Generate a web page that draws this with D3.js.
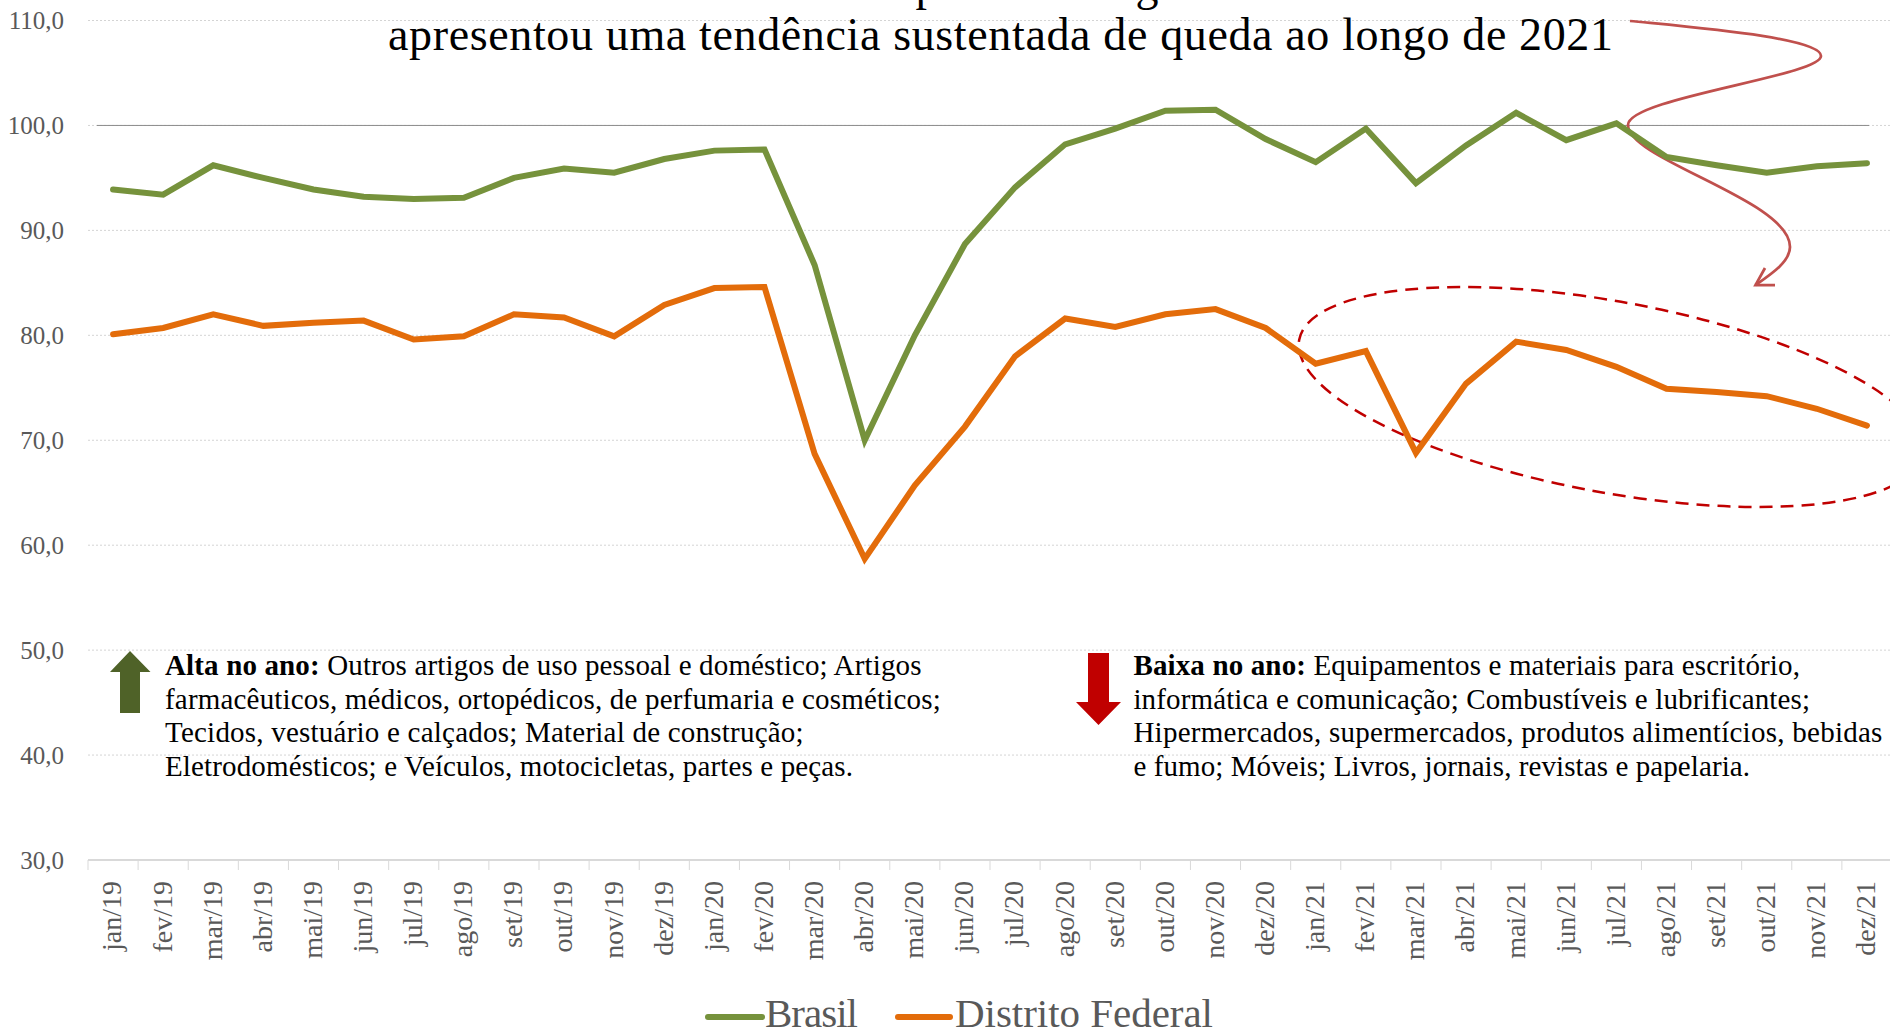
<!DOCTYPE html>
<html lang="pt">
<head>
<meta charset="utf-8">
<title>Brasil e Distrito Federal</title>
<script src="https://cdn.jsdelivr.net/npm/d3@7"></script>
<style>
    html, body { margin: 0; padding: 0; background: #fff; overflow: hidden; }
    svg { display: block; font-family: "Liberation Serif", serif; }
    .grid line { stroke: #d4d4d4; stroke-width: 1; stroke-dasharray: 2 2; }
    .axis-y text { fill: #595959; font-size: 25px; }
    .axis-x text { fill: #595959; font-size: 28px; }
    .axis-y path, .axis-y line, .axis-x path, .axis-x line { display: none; }
    .note { fill: #000; font-size: 29px; }
    .note .lead { font-weight: bold; }
    .title { fill: #000; font-size: 46px; }
    .legend-label { fill: #595959; font-size: 41px; }
</style>
</head>
<body>
<svg id="chart" width="1890" height="1031"></svg>
<script>
// valores
const months = [
    "jan/19", "fev/19", "mar/19", "abr/19", "mai/19", "jun/19", "jul/19", "ago/19", "set/19", "out/19", "nov/19", "dez/19",
    "jan/20", "fev/20", "mar/20", "abr/20", "mai/20", "jun/20", "jul/20", "ago/20", "set/20", "out/20", "nov/20", "dez/20",
    "jan/21", "fev/21", "mar/21", "abr/21", "mai/21", "jun/21", "jul/21", "ago/21", "set/21", "out/21", "nov/21", "dez/21"
];
const brasil = [
    93.9, 93.4, 96.2, 95.0, 93.9, 93.2, 93.0, 93.1, 95.0, 95.9, 95.5, 96.8,
    97.6, 97.7, 86.7, 70.0, 80.0, 88.7, 94.1, 98.2, 99.7, 101.4, 101.5, 98.7,
    96.5, 99.7, 94.5, 98.1, 101.2, 98.6, 100.2, 97.0, 96.2, 95.5, 96.1, 96.4
];
const distritoFederal = [
    80.1, 80.7, 82.0, 80.9, 81.2, 81.4, 79.6, 79.9, 82.0, 81.7, 79.9, 82.9,
    84.5, 84.6, 68.7, 58.7, 65.7, 71.3, 78.0, 81.6, 80.8, 82.0, 82.5, 80.7,
    77.3, 78.5, 68.8, 75.4, 79.4, 78.6, 77.0, 74.9, 74.6, 74.2, 73.0, 71.4
];
const yTicks = [30, 40, 50, 60, 70, 80, 90, 100, 110];
const titleLine = "apresentou uma tendência sustentada de queda ao longo de 2021";
const altaLines = [
    ["Alta no ano:", " Outros artigos de uso pessoal e doméstico; Artigos"],
    ["", "farmacêuticos, médicos, ortopédicos, de perfumaria e cosméticos;"],
    ["", "Tecidos, vestuário e calçados; Material de construção;"],
    ["", "Eletrodomésticos; e Veículos, motocicletas, partes e peças."]
];
const baixaLines = [
    ["Baixa no ano:", " Equipamentos e materiais para escritório,"],
    ["", "informática e comunicação; Combustíveis e lubrificantes;"],
    ["", "Hipermercados, supermercados, produtos alimentícios, bebidas"],
    ["", "e fumo; Móveis; Livros, jornais, revistas e papelaria."]
];

const colors = { brasil: "#76923c", df: "#e36c0a", curve: "#c0504d", dash: "#c00000", up: "#4f6228", down: "#c00000" };

const x = d3.scaleBand().domain(months).range([88, 1892]);
const y = d3.scaleLinear().domain([30, 110]).range([860, 20.5]);
const svg = d3.select("#chart");

// acerta a largura da linha com letter-spacing, a fonte original não está instalada
function fitWidth(textSel, target) {
    const node = textSel.node();
    const n = node.textContent.length;
    const natural = node.getComputedTextLength();
    textSel.style("letter-spacing", ((target - natural) / (n - 1)) + "px");
}

function drawGrid() {
    svg.append("g").attr("class", "grid")
        .selectAll("line").data(yTicks.filter(d => d > 30)).join("line")
        .attr("x1", 88).attr("x2", 1890)
        .attr("y1", d => y(d)).attr("y2", d => y(d));
    // linha de referência em 100
    svg.append("line")
        .attr("x1", 97).attr("x2", 1869)
        .attr("y1", y(100)).attr("y2", y(100))
        .attr("stroke", "#8c8c8c").attr("stroke-width", 1);
}

function drawAxes() {
    svg.append("g").attr("class", "axis-y")
        .attr("transform", "translate(64,0)")
        .call(d3.axisLeft(y).tickValues(yTicks).tickSize(0).tickPadding(0)
            .tickFormat(d => d3.format(".1f")(d).replace(".", ",")))
        .attr("font-family", null);

    const axisX = svg.append("g").attr("class", "axis-x")
        .attr("transform", `translate(0,${y(30)})`)
        .call(d3.axisBottom(x).tickSize(0))
        .attr("font-family", null);
    axisX.selectAll("text")
        .attr("transform", "rotate(-90)")
        .attr("x", -21).attr("y", 0)
        .attr("dy", "0.3em")
        .style("text-anchor", "end");

    svg.append("line")
        .attr("x1", 88).attr("x2", 1890)
        .attr("y1", y(30)).attr("y2", y(30))
        .attr("stroke", "#d9d9d9").attr("stroke-width", 2);
    svg.append("g").selectAll("line")
        .data(months).join("line")
        .attr("x1", d => x(d)).attr("x2", d => x(d))
        .attr("y1", y(30)).attr("y2", y(30) + 10)
        .attr("stroke", "#d9d9d9").attr("stroke-width", 1);
}

function drawSeries() {
    const line = d3.line()
        .x((d, i) => x(months[i]) + x.bandwidth() / 2)
        .y(d => y(d));
    [[brasil, colors.brasil], [distritoFederal, colors.df]].forEach(([values, color]) => {
        svg.append("path").datum(values)
            .attr("d", line)
            .attr("fill", "none")
            .attr("stroke", color)
            .attr("stroke-width", 6)
            .attr("stroke-linejoin", "miter")
            .attr("stroke-linecap", "round");
    });
}

function drawTitle() {
    // da primeira linha só aparecem as descendentes, o resto está fora da página
    svg.selectAll("text.clipped").data([["p", 927], ["g", 1147]]).join("text")
        .attr("class", "title clipped")
        .attr("x", d => d[1]).attr("y", 0)
        .attr("text-anchor", "middle")
        .text(d => d[0]);
    const t = svg.append("text").attr("class", "title")
        .attr("x", 388).attr("y", 49.5)
        .text(titleLine);
    fitWidth(t, 1225);
}

function drawAnnotations() {
    svg.append("path")
        .attr("d", "M1630,21C1700,28 1821,38 1821,56C1821,76 1628,98 1628,125C1628,160 1790,200 1790,247C1790,262 1770,275 1755.5,285")
        .attr("fill", "none").attr("stroke", colors.curve).attr("stroke-width", 2.75);
    svg.append("path")
        .attr("d", "M1765,268L1755.5,285L1775,285")
        .attr("fill", "none").attr("stroke", colors.curve).attr("stroke-width", 2.75);

    svg.append("ellipse")
        .attr("cx", 1611).attr("cy", 397).attr("rx", 317).attr("ry", 95.5)
        .attr("transform", "rotate(10.4 1611 397)")
        .attr("fill", "none").attr("stroke", colors.dash)
        .attr("stroke-width", 2.5).attr("stroke-dasharray", "13 8");

    svg.append("path")
        .attr("d", "M130,651L150.5,672L140,672L140,713L120,713L120,672L110,672Z")
        .attr("fill", colors.up);
    svg.append("path")
        .attr("d", "M1088,653L1109,653L1109,702L1121,702L1098.5,725L1076,702L1088,702Z")
        .attr("fill", colors.down);
}

function drawNote(lines, left, widths) {
    const baselines = [675, 708.5, 742, 776];
    lines.forEach((parts, i) => {
        const t = svg.append("text").attr("class", "note")
            .attr("x", left).attr("y", baselines[i]);
        if (parts[0]) t.append("tspan").attr("class", "lead").text(parts[0]);
        t.append("tspan").text(parts[1]);
        fitWidth(t, widths[i]);
    });
}

function drawLegend() {
    const items = [
        { label: "Brasil", color: colors.brasil, x1: 708, x2: 762, tx: 765, w: 93 },
        { label: "Distrito Federal", color: colors.df, x1: 898, x2: 950, tx: 955, w: 258 }
    ];
    const g = svg.selectAll("g.legend").data(items).join("g").attr("class", "legend");
    g.append("line")
        .attr("x1", d => d.x1).attr("x2", d => d.x2)
        .attr("y1", 1017).attr("y2", 1017)
        .attr("stroke", d => d.color).attr("stroke-width", 6)
        .attr("stroke-linecap", "round");
    g.append("text").attr("class", "legend-label")
        .attr("x", d => d.tx).attr("y", 1027)
        .text(d => d.label)
        .each(function (d) { fitWidth(d3.select(this), d.w); });
}

function init() {
    drawGrid();
    drawAxes();
    drawAnnotations();
    drawSeries();
    drawTitle();
    drawNote(altaLines, 165, [756.5, 775.7, 638.6, 688]);
    drawNote(baixaLines, 1133.4, [666.6, 676.6, 749, 616.6]);
    drawLegend();
}

document.addEventListener("DOMContentLoaded", init);
</script>
</body>
</html>
